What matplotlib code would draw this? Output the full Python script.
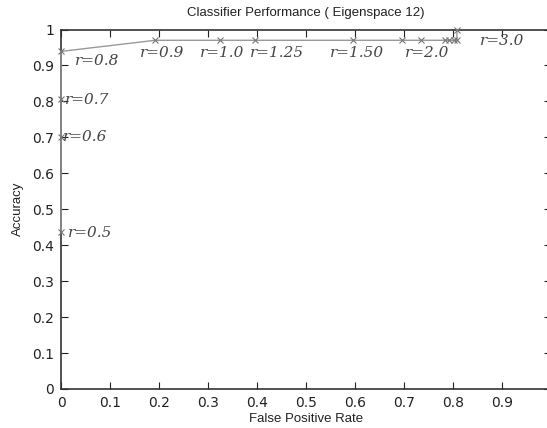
import matplotlib.pyplot as plt

# points along the curve, ordered by r
fpr = [0, 0, 0, 0, 0.192, 0.324, 0.396, 0.596, 0.695, 0.734, 0.784, 0.792, 0.802, 0.808, 0.808]
acc = [0.437, 0.702, 0.808, 0.939, 0.97, 0.97, 0.97, 0.97, 0.97, 0.97, 0.97, 0.97, 0.97, 0.97, 1.0]

# labels: text, x, y
lab_text = ['r=0.5', 'r=0.6', 'r=0.7', 'r=0.8', 'r=0.9', 'r=1.0', 'r=1.25', 'r=1.50', 'r=2.0', 'r=3.0']
lab_x = [0.014, 0.004, 0.008, 0.028, 0.161, 0.284, 0.386, 0.549, 0.702, 0.855]
lab_y = [0.434, 0.700, 0.804, 0.912, 0.935, 0.935, 0.935, 0.935, 0.935, 0.968]

xticks = [0, 0.1, 0.2, 0.3, 0.4, 0.5, 0.6, 0.7, 0.8, 0.9]
yticks = [0, 0.1, 0.2, 0.3, 0.4, 0.5, 0.6, 0.7, 0.8, 0.9, 1.0]

plt.rcParams['font.family'] = ['Liberation Sans', 'DejaVu Sans']

fig = plt.figure(figsize=(5.47, 4.28), dpi=100)
ax = fig.add_axes([61 / 547, 39 / 428, 490 / 547, 359.5 / 428])

ax.plot(fpr, acc, color='#999999', lw=1.0, marker='x', ms=4, mew=0.8,
        mec='#777777', clip_on=False, zorder=3)

for t, x, y in zip(lab_text, lab_x, lab_y):
    ax.text(x, y, t, fontsize=11, style='italic', family='DejaVu Serif',
            color='#444444', va='center')

ax.set_xlim(0, 1)
ax.set_ylim(0, 1)
ax.set_xticks(xticks)
ax.set_yticks(yticks)
ax.set_xticklabels(['0' if v == 0 else f'{v:g}' for v in xticks])
ax.set_yticklabels(['0' if v == 0 else ('1' if v == 1 else f'{v:g}') for v in yticks])
ax.tick_params(direction='in', top=True, right=True, length=5, labelsize=10,
               colors='#222222', pad=5)
for lbl in ax.get_xticklabels() + ax.get_yticklabels():
    lbl.set_family('DejaVu Sans')
for s in ax.spines.values():
    s.set_color('#333333')
    s.set_linewidth(1.2)

ax.set_title('Classifier Performance ( Eigenspace 12)', fontsize=9.5, pad=10, color='#222222')
ax.set_xlabel('False Positive Rate', fontsize=9.5, labelpad=2, color='#222222')
ax.set_ylabel('Accuracy', fontsize=9.5, labelpad=6, color='#222222')

fig.savefig('out.png', dpi=100)
